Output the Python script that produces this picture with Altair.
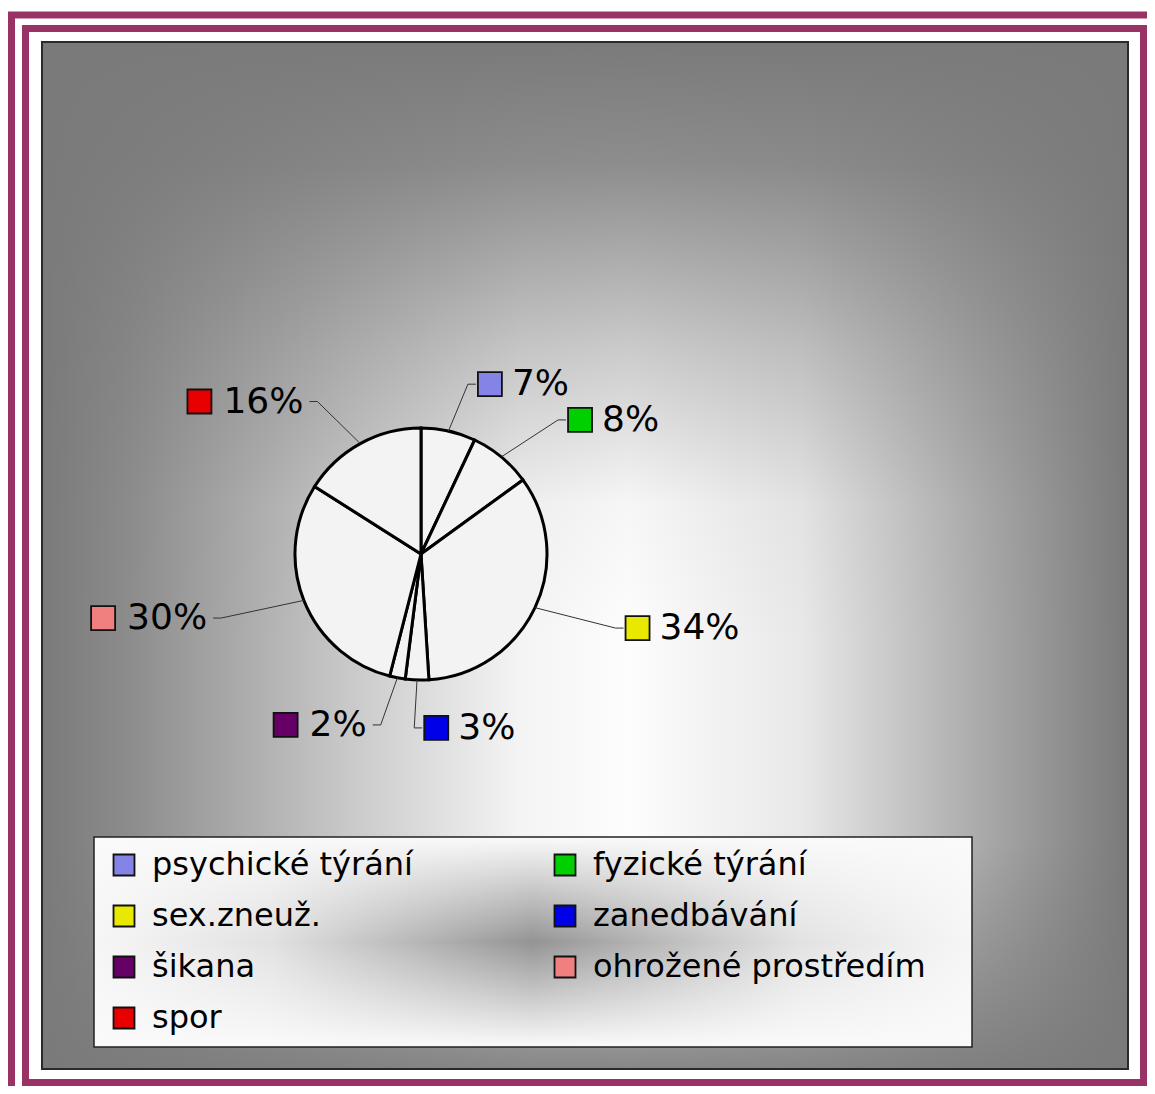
import altair as alt
import pandas as pd

# ---- data ----
categories = ["psychické týrání", "fyzické týrání", "sex.zneuž.", "zanedbávání",
              "šikana", "ohrožené prostředím", "spor"]
values = [7, 8, 34, 3, 2, 30, 16]
labels = ["7%", "8%", "34%", "3%", "2%", "30%", "16%"]
colors = ["#8484E6", "#00D000", "#E8E800", "#0000E8", "#660066", "#F08080", "#E80000"]

df = pd.DataFrame({"cat": categories, "value": values, "lab": labels,
                   "idx": list(range(len(categories)))})

# ---- layout constants ----
W, H = 1139, 1078
CX, CY = 413, 546      # pie centre
R = 126                # pie radius
RX, RY = 215, 174      # label anchor ellipse
FS = 36                # percent label font size
FONT = "DejaVu Sans"
MAGENTA = "#993366"

xs = alt.Scale(domain=[0, W], range=[0, W], nice=False, zero=False)
ys = alt.Scale(domain=[0, H], range=[0, H], nice=False, zero=False)

one = alt.Chart(pd.DataFrame({"k": [0]}))

outer_frame = one.mark_rect(fillOpacity=0, stroke=MAGENTA, strokeWidth=7).encode(
    x=alt.value(3.5), x2=alt.value(1300), y=alt.value(7), y2=alt.value(1300))
inner_frame = one.mark_rect(fillOpacity=0, stroke=MAGENTA, strokeWidth=7).encode(
    x=alt.value(17.5), x2=alt.value(1135.5), y=alt.value(20.5), y2=alt.value(1074.5))


def stop(c, o):
    return alt.GradientStop(color=c, offset=o)


bg_h = alt.LinearGradient(gradient="linear", x1=0, y1=0, x2=1, y2=0, stops=[
    stop("#7a7a7a", 0), stop("#8c8c8c", 0.08), stop("#c8c8c8", 0.28),
    stop("#f4f4f4", 0.44), stop("#fdfdfd", 0.54), stop("#e8e8e8", 0.7),
    stop("#a8a8a8", 0.87), stop("#7a7a7a", 1)])
bg_v = alt.LinearGradient(gradient="linear", x1=0, y1=0, x2=0, y2=1, stops=[
    stop("rgba(122,122,122,1)", 0), stop("rgba(122,122,122,0.85)", 0.12),
    stop("rgba(122,122,122,0.38)", 0.3), stop("rgba(122,122,122,0.05)", 0.45),
    stop("rgba(122,122,122,0)", 0.58), stop("rgba(122,122,122,0)", 0.78),
    stop("rgba(122,122,122,0.9)", 1)])
plot_bg = one.mark_rect(fill=bg_h).encode(
    x=alt.value(34), x2=alt.value(1120), y=alt.value(34), y2=alt.value(1061))
plot_bg2 = one.mark_rect(fill=bg_v, stroke="#2a2a2a", strokeWidth=2).encode(
    x=alt.value(34), x2=alt.value(1120), y=alt.value(34), y2=alt.value(1061))

leg_h = alt.LinearGradient(gradient="linear", x1=0, y1=0, x2=1, y2=0, stops=[
    stop("#f6f6f6", 0), stop("#e2e2e2", 0.2), stop("#949494", 0.5),
    stop("#e2e2e2", 0.8), stop("#f6f6f6", 1)])
leg_v = alt.LinearGradient(gradient="linear", x1=0, y1=0, x2=0, y2=1, stops=[
    stop("rgba(250,250,250,1)", 0), stop("rgba(250,250,250,0.5)", 0.25),
    stop("rgba(250,250,250,0)", 0.5), stop("rgba(250,250,250,0.5)", 0.75),
    stop("rgba(250,250,250,1)", 1)])
legend_bg = one.mark_rect(fill=leg_h).encode(
    x=alt.value(86), x2=alt.value(964), y=alt.value(829), y2=alt.value(1039))
legend_bg2 = one.mark_rect(fill=leg_v, stroke="#222", strokeWidth=1.5).encode(
    x=alt.value(86), x2=alt.value(964), y=alt.value(829), y2=alt.value(1039))

base = alt.Chart(df)

pie = base.mark_arc(outerRadius=R, fill="#f3f3f3", stroke="#000", strokeWidth=3).encode(
    theta=alt.Theta("value:Q", stack=True),
    order=alt.Order("idx:Q"),
    detail="cat:N",
    x=alt.value(CX), y=alt.value(CY))

calc = base.transform_joinaggregate(total="sum(value)").transform_window(
    cum="sum(value)", sort=[alt.SortField("idx")], frame=[None, 0]
).transform_calculate(
    mid="(datum.cum - datum.value/2) / datum.total * 2 * PI"
).transform_calculate(
    side="datum.mid < PI*1.03 ? 1 : -1",
    ex=f"{CX} + {R}*sin(datum.mid)",
    ey=f"{CY} - {R}*cos(datum.mid)",
    ax=f"{CX} + {RX}*sin(datum.mid)",
    ay=f"{CY} - {RY}*cos(datum.mid)",
    tw=f"{FS}*(0.636*(length(datum.lab)-1) + 0.95)",
).transform_calculate(
    tx2="datum.ax + datum.side*8",
    sqx="datum.side > 0 ? datum.ax + 22 : datum.ax - 14 - datum.tw - 24",
    lx="datum.side > 0 ? datum.ax + 44 : datum.ax - 14",
)

leader = calc.mark_rule(color="#333", strokeWidth=1).encode(
    x=alt.X("ex:Q", scale=xs, axis=None), y=alt.Y("ey:Q", scale=ys, axis=None),
    x2="ax:Q", y2="ay:Q")
tick = calc.mark_rule(color="#333", strokeWidth=1).encode(
    x=alt.X("ax:Q", scale=xs, axis=None), y=alt.Y("ay:Q", scale=ys, axis=None),
    x2="tx2:Q")

squares = calc.mark_square(size=576, filled=True, opacity=1, stroke="#111", strokeWidth=1.8).encode(
    x=alt.X("sqx:Q", scale=xs, axis=None),
    y=alt.Y("ay:Q", scale=ys, axis=None),
    color=alt.Color("cat:N", scale=alt.Scale(domain=categories, range=colors),
                    legend=alt.Legend(title=None, orient="none", direction="horizontal",
                                      legendX=100, legendY=841,
                                      columns=2, columnPadding=136, rowPadding=19,
                                      gridAlign="each", symbolType="square", symbolSize=440,
                                      symbolStrokeColor="#111", symbolStrokeWidth=1.8,
                                      labelFontSize=32, labelFont=FONT, labelColor="#000",
                                      labelLimit=700, labelOffset=12, padding=0)))

txt_r = calc.transform_filter("datum.side > 0").mark_text(
    align="left", baseline="middle", fontSize=FS, font=FONT, color="#000").encode(
    x=alt.X("lx:Q", scale=xs, axis=None), y=alt.Y("ay:Q", scale=ys, axis=None), text="lab:N")
txt_l = calc.transform_filter("datum.side < 0").mark_text(
    align="right", baseline="middle", fontSize=FS, font=FONT, color="#000").encode(
    x=alt.X("lx:Q", scale=xs, axis=None), y=alt.Y("ay:Q", scale=ys, axis=None), text="lab:N")

chart = alt.layer(outer_frame, inner_frame, plot_bg, plot_bg2, legend_bg, legend_bg2,
                  pie, leader, tick, squares, txt_r, txt_l).properties(
    width=W, height=H, padding=0, autosize=alt.AutoSizeParams(type="none"),
    background="white"
).configure_view(strokeWidth=0)

chart.save("out.html", embed_options={"renderer": "svg", "actions": False})
